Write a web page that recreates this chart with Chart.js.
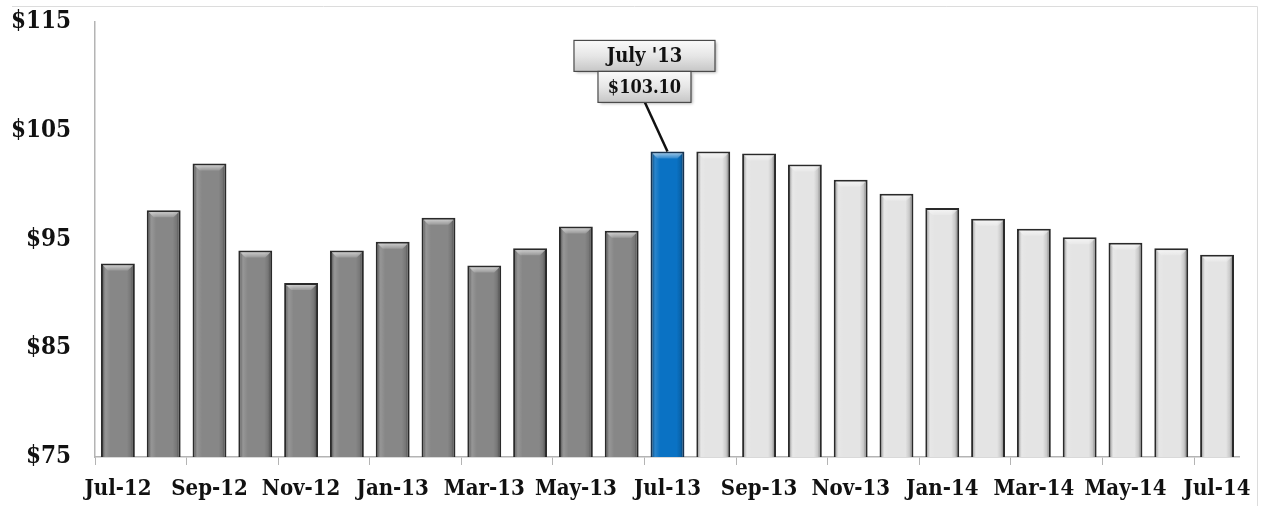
<!DOCTYPE html>
<html>
<head>
<meta charset="utf-8">
<script src="https://cdn.jsdelivr.net/npm/chart.js@4/dist/chart.umd.min.js"></script>
<style>
    body { margin: 0; background: #fff; }
    #wrap { width: 1262px; height: 506px; }
</style>
</head>
<body>
<div id="wrap"><canvas id="priceChart" width="1262" height="506"></canvas></div>
<script>
// Monthly categories, Jul-12 .. Jul-14
const months = ['Jul-12', 'Aug-12', 'Sep-12', 'Oct-12', 'Nov-12', 'Dec-12',
    'Jan-13', 'Feb-13', 'Mar-13', 'Apr-13', 'May-13', 'Jun-13',
    'Jul-13', 'Aug-13', 'Sep-13', 'Oct-13', 'Nov-13', 'Dec-13',
    'Jan-14', 'Feb-14', 'Mar-14', 'Apr-14', 'May-14', 'Jun-14', 'Jul-14'];

// Price per month ($)
const prices = [92.8, 97.7, 102.0, 94.0, 91.0, 94.0,
    94.8, 97.0, 92.6, 94.2, 96.2, 95.8,
    103.1, 103.1, 102.9, 101.9, 100.5, 99.2,
    97.9, 96.9, 96.0, 95.2, 94.7, 94.2, 93.6];

// y axis ticks
const yTicks = [75, 85, 95, 105, 115];

// callout
const calloutIndex = 12;
const calloutTitle = "July '13";

const COLORS = {
    actual: '#878787',
    current: '#0a72c4',
    forecast: '#e4e4e4',
    border: '#2a2a2a',
    currentBorder: '#17324f',
    axis: '#b4b4b4'
};

const FONT = "'DejaVu Serif Condensed', 'DejaVu Serif', serif";

function barColor(i) {
    if (i < calloutIndex) return COLORS.actual;
    if (i === calloutIndex) return COLORS.current;
    return COLORS.forecast;
}

// Bevel look on every bar
const bevelPlugin = {
    id: 'bevel',
    afterDatasetsDraw(chart) {
        const ctx = chart.ctx;
        const area = chart.chartArea;
        const meta = chart.getDatasetMeta(0);
        ctx.save();
        ctx.beginPath();
        ctx.rect(area.left, area.top, area.right - area.left, area.bottom - area.top);
        ctx.clip();
        meta.data.forEach(bar => {
            const bw = 2;
            const l = bar.x - bar.width / 2 + bw;
            const r = bar.x + bar.width / 2 - bw;
            const t = bar.y + bw;
            const b = area.bottom;
            const w = r - l;
            // side shading
            const g = ctx.createLinearGradient(l, 0, r, 0);
            g.addColorStop(0, 'rgba(0,0,0,0.28)');
            g.addColorStop(0.1, 'rgba(255,255,255,0.12)');
            g.addColorStop(0.25, 'rgba(255,255,255,0)');
            g.addColorStop(0.8, 'rgba(0,0,0,0)');
            g.addColorStop(0.93, 'rgba(0,0,0,0.12)');
            g.addColorStop(1, 'rgba(0,0,0,0.35)');
            ctx.fillStyle = g;
            ctx.fillRect(l, t, w, b - t);
            // top bevel
            const h = 5;
            const tg = ctx.createLinearGradient(0, t, 0, t + h);
            tg.addColorStop(0, 'rgba(255,255,255,0.55)');
            tg.addColorStop(1, 'rgba(255,255,255,0.15)');
            ctx.fillStyle = tg;
            ctx.beginPath();
            ctx.moveTo(l, t);
            ctx.lineTo(r, t);
            ctx.lineTo(r - h, t + h);
            ctx.lineTo(l + h, t + h);
            ctx.closePath();
            ctx.fill();
        });
        ctx.restore();
    }
};

// Callout box above the highlighted bar
function drawBox(ctx, cx, top, w, h, text, size) {
    ctx.save();
    ctx.shadowColor = 'rgba(0,0,0,0.35)';
    ctx.shadowOffsetX = 2;
    ctx.shadowOffsetY = 2;
    ctx.shadowBlur = 3;
    const g = ctx.createLinearGradient(0, top, 0, top + h);
    g.addColorStop(0, '#fafafa');
    g.addColorStop(0.5, '#e6e6e6');
    g.addColorStop(1, '#c6c6c6');
    ctx.fillStyle = g;
    ctx.fillRect(cx - w / 2, top, w, h);
    ctx.restore();
    ctx.save();
    ctx.strokeStyle = '#4a4a4a';
    ctx.lineWidth = 1.2;
    ctx.strokeRect(cx - w / 2, top, w, h);
    ctx.fillStyle = '#111';
    ctx.font = `bold ${size}px ${FONT}`;
    ctx.textAlign = 'center';
    ctx.textBaseline = 'middle';
    ctx.fillText(text, cx, top + h / 2 + 1);
    ctx.restore();
}

const calloutPlugin = {
    id: 'callout',
    afterDatasetsDraw(chart) {
        const ctx = chart.ctx;
        const bar = chart.getDatasetMeta(0).data[calloutIndex];
        const cx = bar.x - 23;
        // leader line
        ctx.save();
        ctx.strokeStyle = '#111';
        ctx.lineWidth = 2.5;
        ctx.beginPath();
        ctx.moveTo(cx, bar.y - 50);
        ctx.lineTo(bar.x, bar.y);
        ctx.stroke();
        ctx.restore();
        drawBox(ctx, cx, bar.y - 111, 141, 31, calloutTitle, 20);
        drawBox(ctx, cx, bar.y - 80, 93, 31, '$' + prices[calloutIndex].toFixed(2), 18);
    }
};

// Thin frame at top and right
const framePlugin = {
    id: 'frame',
    beforeDraw(chart) {
        const ctx = chart.ctx;
        ctx.save();
        ctx.strokeStyle = '#dcdcdc';
        ctx.lineWidth = 1;
        ctx.beginPath();
        ctx.moveTo(12, 6.5);
        ctx.lineTo(1257.5, 6.5);
        ctx.lineTo(1257.5, 506);
        ctx.stroke();
        ctx.restore();
    }
};

const chart = new Chart(document.getElementById('priceChart'), {
    type: 'bar',
    data: {
        labels: months,
        datasets: [{
            data: prices,
            backgroundColor: prices.map((v, i) => barColor(i)),
            borderColor: prices.map((v, i) => i === calloutIndex ? COLORS.currentBorder : COLORS.border),
            borderWidth: 2,
            borderSkipped: 'bottom',
            barPercentage: 0.74,
            categoryPercentage: 1
        }]
    },
    options: {
        responsive: false,
        animation: false,
        devicePixelRatio: 1,
        layout: { padding: { top: 22, right: 21, left: 0, bottom: 0 } },
        plugins: {
            legend: { display: false },
            tooltip: { enabled: false }
        },
        scales: {
            x: {
                offset: true,
                grid: {
                    display: true,
                    offset: true,
                    drawOnChartArea: false,
                    drawTicks: true,
                    tickLength: 8,
                    color: c => c.index % 2 === 0 ? COLORS.axis : 'rgba(0,0,0,0)'
                },
                border: { display: true, color: COLORS.axis, width: 1.5 },
                ticks: {
                    autoSkip: false,
                    maxRotation: 0,
                    padding: 11,
                    color: '#111',
                    font: { family: FONT, size: 22, weight: 'bold' },
                    callback: (val, i) => i % 2 === 0 ? months[i] : ''
                },
                afterFit: scale => { scale.height = 49; }
            },
            y: {
                min: yTicks[0],
                max: yTicks[yTicks.length - 1],
                grid: {
                    display: true,
                    drawOnChartArea: false,
                    drawTicks: true,
                    tickLength: 22,
                    color: 'rgba(0,0,0,0)'
                },
                border: { display: true, color: COLORS.axis, width: 1.5 },
                ticks: {
                    stepSize: 10,
                    padding: 2,
                    color: '#111',
                    font: { family: FONT, size: 24, weight: 'bold' },
                    callback: v => yTicks.includes(v) ? '$' + v : null
                },
                afterFit: scale => { scale.width = 95; }
            }
        }
    },
    plugins: [framePlugin, bevelPlugin, calloutPlugin]
});
</script>
</body>
</html>
